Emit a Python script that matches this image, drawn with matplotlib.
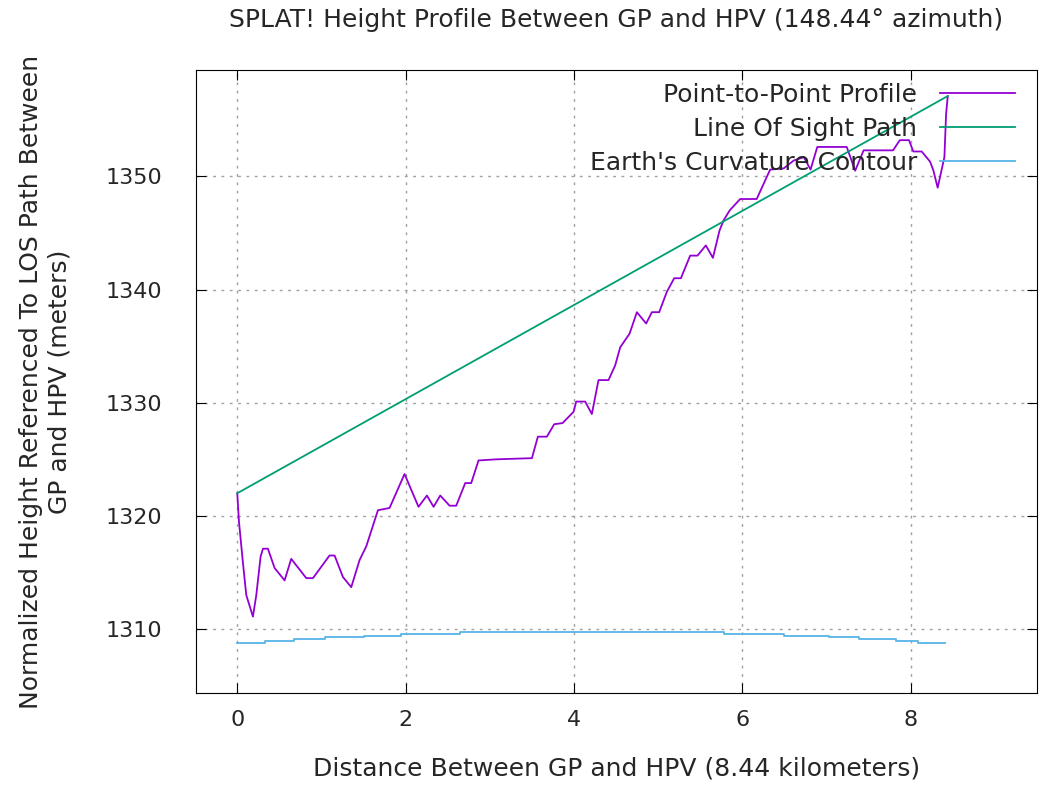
import matplotlib
matplotlib.use("Agg")
import matplotlib.pyplot as plt

plt.rcParams['font.family'] = ['DejaVu Sans']
plt.rcParams['text.color'] = '#262626'
plt.rcParams['axes.labelcolor'] = '#262626'
plt.rcParams['xtick.labelcolor'] = '#262626'
plt.rcParams['ytick.labelcolor'] = '#262626'

# point-to-point terrain profile (km, m)
profile_km = [0.0, 0.02, 0.068, 0.107, 0.186, 0.226, 0.277, 0.305, 0.364, 0.443,
              0.562, 0.641, 0.82, 0.899, 1.096, 1.156, 1.255, 1.354, 1.453, 1.532,
              1.671, 1.809, 1.987, 2.153, 2.253, 2.332, 2.411, 2.522, 2.601, 2.708,
              2.779, 2.866, 3.084, 3.50, 3.571, 3.678, 3.765, 3.864, 3.995, 4.026,
              4.133, 4.212, 4.291, 4.41, 4.489, 4.549, 4.66, 4.747, 4.857, 4.925,
              5.012, 5.103, 5.19, 5.27, 5.38, 5.467, 5.566, 5.65, 5.728, 5.776,
              5.85, 5.974, 6.17, 6.33, 6.49, 6.61, 6.73, 6.81, 6.89, 7.24,
              7.34, 7.44, 7.79, 7.87, 7.98, 8.03, 8.13, 8.23, 8.27, 8.32,
              8.40, 8.42, 8.44]
profile_m = [1322.0, 1319.5, 1315.8, 1313.0, 1311.1, 1313.0, 1316.4, 1317.1, 1317.1, 1315.4,
             1314.3, 1316.2, 1314.5, 1314.5, 1316.5, 1316.5, 1314.6, 1313.7, 1316.1, 1317.3,
             1320.5, 1320.7, 1323.7, 1320.8, 1321.8, 1320.8, 1321.8, 1320.9, 1320.9, 1322.9,
             1322.9, 1324.9, 1325.0, 1325.1, 1327.0, 1327.0, 1328.1, 1328.2, 1329.2, 1330.1,
             1330.1, 1329.0, 1332.0, 1332.0, 1333.3, 1334.9, 1336.1, 1338.0, 1337.0, 1338.0,
             1338.0, 1339.8, 1341.0, 1341.0, 1343.0, 1343.0, 1343.9, 1342.8, 1345.2, 1346.1,
             1347.0, 1348.0, 1348.0, 1350.6, 1350.7, 1351.4, 1351.7, 1350.6, 1352.6, 1352.6,
             1350.5, 1352.3, 1352.3, 1353.2, 1353.2, 1352.2, 1352.2, 1351.3, 1350.5, 1349.0,
             1351.7, 1355.5, 1357.1]

# line of sight path
los_km = [0.0, 8.44]
los_m = [1322.0, 1357.1]

# earth's curvature contour (stepped)
curve_km = [0.0, 0.33, 0.67, 1.04, 1.50, 1.95, 2.65, 5.78, 6.50, 7.03, 7.38, 7.83, 8.09, 8.41]
curve_m = [1308.79, 1308.94, 1309.09, 1309.27, 1309.41, 1309.56, 1309.71, 1309.56,
           1309.41, 1309.27, 1309.09, 1308.94, 1308.79, 1308.79]

fig = plt.figure(figsize=(10.46, 7.91), dpi=100)
ax = fig.add_axes([0.1874, 0.1239, 0.8040, 0.7876])

ax.plot(profile_km, profile_m, color='#9400D3', lw=1.3, label='Point-to-Point Profile')
ax.plot(los_km, los_m, color='#009E73', lw=1.3, label='Line Of Sight Path')
ax.plot(curve_km, curve_m, color='#56B4E9', lw=1.3, drawstyle='steps-post',
        label="Earth's Curvature Contour")

ax.set_xlim(-0.49, 9.5)
ax.set_ylim(1304.35, 1359.4)
ax.set_xticks([0, 2, 4, 6, 8])
ax.set_yticks([1310, 1320, 1330, 1340, 1350])
ax.grid(True, linestyle=(0, (2, 4)), color='#a0a0a0', lw=1)
ax.tick_params(direction='in', top=True, right=True, labelsize=16, length=7)
ax.tick_params(axis='x', pad=12)
ax.tick_params(axis='y', pad=24)

ax.set_title('SPLAT! Height Profile Between GP and HPV (148.44° azimuth)', fontsize=18, pad=31)
ax.set_xlabel('Distance Between GP and HPV (8.44 kilometers)', fontsize=18, labelpad=19)
ax.set_ylabel('Normalized Height Referenced To LOS Path Between\nGP and HPV (meters)',
              fontsize=18, labelpad=25, linespacing=1.2)

ax.legend(loc='upper right', frameon=False, markerfirst=False, fontsize=18,
          handlelength=3.0, handletextpad=0.9, labelspacing=0.4, borderaxespad=0.25,
          bbox_to_anchor=(0.993, 1.005))

fig.savefig('out.png', dpi=100)
